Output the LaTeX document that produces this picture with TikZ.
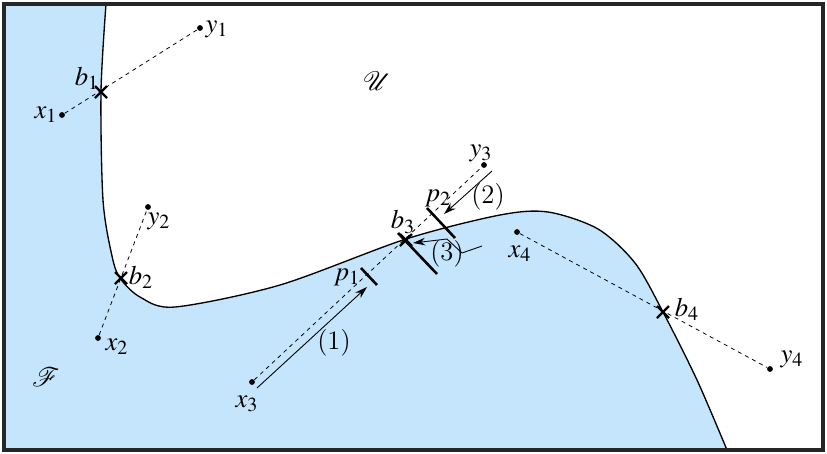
\documentclass[tikz,border=0pt]{standalone}
\usepackage{mathptmx}
\usepackage{mathrsfs}
\usetikzlibrary{shapes.misc,arrows.meta,calc}
\definecolor{fblue}{RGB}{196,229,251}
\begin{document}
\begin{tikzpicture}[x=0.45pt,y=-0.45pt,font=\fontsize{12}{14}\selectfont,
  dot/.style={circle,fill,inner sep=0pt,minimum size=2.6pt},
  bmark/.style={cross out,draw,line width=1pt,minimum size=4.4pt,inner sep=0pt},
  ray/.style={line width=0.35pt,dash pattern=on 1.8pt off 1.8pt},
  tickmark/.style={line width=1.15pt},
  mv/.style={-{Stealth[length=5.5pt,width=3.4pt]},line width=0.4pt},
  lbl/.style={inner sep=0pt}]
\useasboundingbox (0,0) rectangle (827,453);
% region F
\fill[fblue] (4,4) -- plot[smooth,tension=0.5] coordinates {(106,4) (101,92) (103,200) (112,256) (120,278) (140,297) (175,307) (280,285) (406,239) (500,215) (548,212) (598,229) (635,263) (663,312) (697,380) (727,450)} -- (4,450) -- cycle;
\draw[line width=0.6pt] plot[smooth,tension=0.5] coordinates {(106,4) (101,92) (103,200) (112,256) (120,278) (140,297) (175,307) (280,285) (406,239) (500,215) (548,212) (598,229) (635,263) (663,312) (697,380) (727,450)};
\draw[line width=1.4pt,black!85] (4,4) rectangle (823,450);

% points
\node[dot] (x1) at (62,115) {};
\node[dot] (y1) at (200,28) {};
\node[dot] (x2) at (98,338) {};
\node[dot] (y2) at (148,207) {};
\node[dot] (x3) at (252,382) {};
\node[dot] (y3) at (484,165) {};
\node[dot] (x4) at (517,232) {};
\node[dot] (y4) at (770,369) {};

\draw[ray] (x1) -- (y1);
\draw[ray] (x2) -- (y2);
\draw[ray] (x3) -- (y3);
\draw[ray] (x4) -- (y4);

\node[bmark] (b1) at (101,92) {};
\node[bmark] (b2) at (121,278) {};
\node[bmark] (b3) at (406,240) {};
\node[bmark] (b4) at (663,312) {};

% ticks
\coordinate (t1a) at (361,268); \coordinate (t1b) at (377,285);
\coordinate (t2a) at (427,208); \coordinate (t2b) at (455,238);
\coordinate (t3a) at (398,233); \coordinate (t3b) at (437,274);
\draw[tickmark] (t1a) -- (t1b);
\draw[tickmark] (t2a) -- (t2b);
\draw[tickmark] (t3a) -- (t3b);

% moves
\coordinate (m1a) at (257,388); \coordinate (m1b) at (367,287);
\coordinate (m2a) at (492,171); \coordinate (m2b) at (444,214);
\coordinate (m3a) at (482,246); \coordinate (m3k) at (462,253);
\coordinate (m3l) at (447,239); \coordinate (m3b) at (413,243);
\draw[mv] (m1a) -- (m1b);
\draw[mv] (m2a) -- (m2b);
\draw[mv] (m3a) -- (m3k) -- (m3l) -- (m3b);

% labels
\node[lbl] (lx1) at (46,115) {$x_1$};
\node[lbl] (ly1) at (217,29) {$y_1$};
\node[lbl] (lb1) at (87,78) {$b_1$};
\node[lbl] (ly2) at (159,221) {$y_2$};
\node[lbl] (lb2) at (141,277) {$b_2$};
\node[lbl] (lx2) at (117,347) {$x_2$};
\node[lbl] (lx3) at (247,404) {$x_3$};
\node[lbl] (ly3) at (481,153) {$y_3$};
\node[lbl] (lp2) at (438,198) {$p_2$};
\node[lbl] (lb3) at (403,222) {$b_3$};
\node[lbl] (lp1) at (347,277) {$p_1$};
\node[lbl] (l2) at (488,197) {(2)};
\node[lbl] (l3) at (447,254) {(3)};
\node[lbl] (l1) at (334,343) {(1)};
\node[lbl] (lx4) at (520,254) {$x_4$};
\node[lbl] (lb4) at (687,309) {$b_4$};
\node[lbl] (ly4) at (792,359) {$y_4$};
\node[lbl] (lU) at (377,81) {$\mathscr{U}$};
\node[lbl] (lF) at (46,377) {$\mathscr{F}$};
\end{tikzpicture}
\end{document}
